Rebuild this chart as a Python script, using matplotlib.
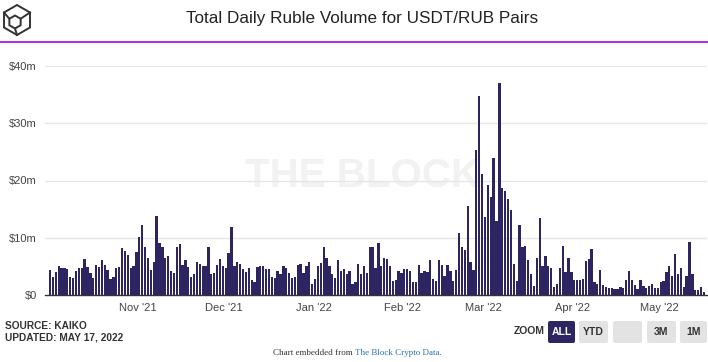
import numpy as np
import pandas as pd
import matplotlib
matplotlib.use("Agg")
import matplotlib.pyplot as plt
from matplotlib.patches import FancyBboxPatch, Polygon

# daily ruble volume for USDT/RUB pairs, in $m, starting 2021-10-01
start_date = "2021-10-01"
volume_m = [
    4.4, 3.1, 4.05, 5.0, 4.7, 4.7, 4.6, 3.1, 2.95, 4.2, 4.7, 4.7, 6.25, 4.9, 3.9, 2.95,
    5.3, 4.9, 6.1, 5.3, 4.3, 2.8, 3.2, 4.7, 4.9, 8.2, 7.6, 7.0, 4.7, 5.15, 7.5, 10.2,
    12.15, 8.45, 6.5, 4.45, 5.8,
    13.8, 9.1, 8.3, 6.4, 6.8, 4.2, 3.9, 8.3, 8.9, 5.3, 6.1, 4.9, 3.1, 3.6, 5.7, 5.5,
    5.0, 5.1, 8.45, 3.6, 3.8, 5.3, 6.25, 5.15, 4.7, 7.3, 11.9, 5.15, 5.8, 5.5, 4.6,
    4.05, 4.8, 2.7, 2.3, 4.9, 5.1, 5.0,
    4.5, 4.5, 3.1, 2.95, 4.2, 3.6, 5.1, 4.7, 3.9, 2.95, 3.1, 5.3, 5.4, 3.9, 5.15, 5.7,
    2.0, 2.8, 5.0, 5.55, 8.45, 6.4, 5.15, 3.6, 2.95, 6.1, 4.2, 4.6, 3.7, 4.2, 1.85,
    2.3, 5.4, 3.7, 5.0, 3.9, 8.3, 8.3,
    4.8, 9.0, 5.15, 6.5, 6.35, 5.0, 2.4, 2.55, 4.15, 3.9, 4.6, 4.6, 4.15, 2.35, 2.35,
    5.25, 3.9, 4.15, 4.1, 6.2, 2.8, 2.5, 6.05, 5.25, 3.4, 5.25, 4.15, 2.5, 4.45, 10.75,
    8.4, 7.9, 15.6, 5.7, 4.4, 25.4, 34.8, 21.2, 13.6,
    19.2, 17.2, 24.0, 12.9, 37.05, 18.7, 18.2, 16.7, 14.8, 5.5, 2.4, 12.3, 8.3, 8.55,
    6.1, 3.75, 1.55, 6.5, 13.4, 5.15, 6.8, 5.15, 4.7, 1.4, 2.0, 4.8, 8.55, 4.1, 6.4,
    4.1, 2.55, 2.55, 2.55, 2.8, 5.95, 6.35, 8.1, 2.3,
    1.85, 4.4, 1.75, 1.45, 1.3, 1.3, 1.0, 1.0, 1.45, 1.3, 2.65, 4.2, 2.65, 1.75, 1.0,
    2.65, 1.55, 1.3, 1.55, 1.85, 1.15, 1.3, 2.3, 2.5, 4.05, 5.0, 3.4, 7.1, 3.6, 4.7,
    1.4, 3.3, 9.2, 3.7, 0.9, 0.8, 1.45, 0.5,
]
dates = pd.date_range(start_date, periods=len(volume_m), freq="D")
month_ticks = pd.date_range("2021-11-01", "2022-05-01", freq="MS")
month_labels = [d.strftime("%b '%y") for d in month_ticks]
y_ticks = [0, 10, 20, 30, 40]
y_labels = ["$0", "$10m", "$20m", "$30m", "$40m"]

title = "Total Daily Ruble Volume for USDT/RUB Pairs"
bar_color = "#2d2561"
sans = ["Liberation Sans", "DejaVu Sans"]

W, H = 708, 362
fig = plt.figure(figsize=(W / 100, H / 100), dpi=100)

# main plot area in pixel terms: x 45..707, y 66..295
ax = fig.add_axes([45 / W, 1 - 295 / H, (707 - 45) / W, (295 - 66) / H])
ax.text(0.48, 0.52, "THE BLOCK", transform=ax.transAxes, ha="center", va="center",
        fontsize=29, fontweight="bold", color="#f2f2f2", family="Liberation Sans", zorder=0)
ax.bar(dates, volume_m, width=0.8, color=bar_color, zorder=2)

ax.set_ylim(0, 40)
ax.set_xlim(dates[0] - pd.Timedelta(hours=42), dates[-1] + pd.Timedelta(hours=26))
ax.set_yticks(y_ticks)
ax.set_yticklabels(y_labels)
ax.set_xticks(month_ticks - pd.Timedelta(hours=12))
ax.set_xticklabels(month_labels)
for t in y_ticks[1:]:
    ax.axhline(t, color="#e6e6e6", lw=1, zorder=1)
for s in ["top", "right", "left"]:
    ax.spines[s].set_visible(False)
ax.spines["bottom"].set_color("#333333")
ax.spines["bottom"].set_linewidth(1)
ax.spines["bottom"].set_zorder(3)
ax.tick_params(axis="both", length=0, labelsize=8, labelcolor="#444444")
ax.tick_params(axis="y", pad=6)
ax.tick_params(axis="x", pad=6)
for lab in ax.get_xticklabels() + ax.get_yticklabels():
    lab.set_family("Liberation Sans")
ax.patch.set_alpha(0)

# overlay in pixel coordinates for header / footer
ov = fig.add_axes([0, 0, 1, 1])
ov.set_xlim(0, W)
ov.set_ylim(H, 0)
ov.axis("off")
ov.patch.set_alpha(0)

ov.text(362, 19, title, ha="center", va="center", fontsize=12.3, color="#222222", family=sans)
ov.plot([0, W], [42, 42], color="#a11ff0", lw=1.3)

# logo: cube in hexagon
ang = np.deg2rad(np.arange(90, 450, 60))
cx, cy, r = 17, 20, 15
outer = np.c_[cx + r * np.cos(ang), cy - r * np.sin(ang)]
icx, icy, ir = 15, 22, 6.5
inner = np.c_[icx + ir * np.cos(ang), icy - ir * np.sin(ang)]
ov.add_patch(Polygon(outer, closed=True, fill=False, ec="#333333", lw=1.4))
ov.add_patch(Polygon(inner, closed=True, fill=False, ec="#333333", lw=1.4))
for i in [1, 3, 5]:
    ov.plot([outer[i, 0], inner[i, 0]], [outer[i, 1], inner[i, 1]], color="#333333", lw=1.4)

# footer
ov.text(5, 326, "SOURCE: KAIKO", ha="left", va="center", fontsize=7.3, fontweight="bold",
        color="#333333", family=sans)
ov.text(5, 338, "UPDATED: MAY 17, 2022", ha="left", va="center", fontsize=7.3, fontweight="bold",
        color="#333333", family=sans)

ov.text(545, 331, "ZOOM", ha="right", va="center", fontsize=7.5, fontweight="bold",
        color="#333333", family=sans)
buttons = [("ALL", 548, 575), ("YTD", 579, 608), ("", 613, 642), ("3M", 647, 676), ("1M", 680, 707)]
for label, x0, x1 in buttons:
    active = label == "ALL"
    ov.add_patch(FancyBboxPatch((x0, 321), x1 - x0, 22, boxstyle="round,pad=0,rounding_size=2",
                                fc=bar_color if active else "#e3e3e3", ec="none"))
    ov.text((x0 + x1) / 2, 332, label, ha="center", va="center", fontsize=7.5, fontweight="bold",
            color="white" if active else "#333333", family=sans)

ov.text(355, 353, "Chart embedded from ", ha="right", va="center", fontsize=6.5,
        color="#333333", family="Liberation Serif")
ov.text(355, 353, "The Block Crypto Data.", ha="left", va="center", fontsize=6.5,
        color="#2471b5", family="Liberation Serif")

fig.savefig("out.png", dpi=100)
